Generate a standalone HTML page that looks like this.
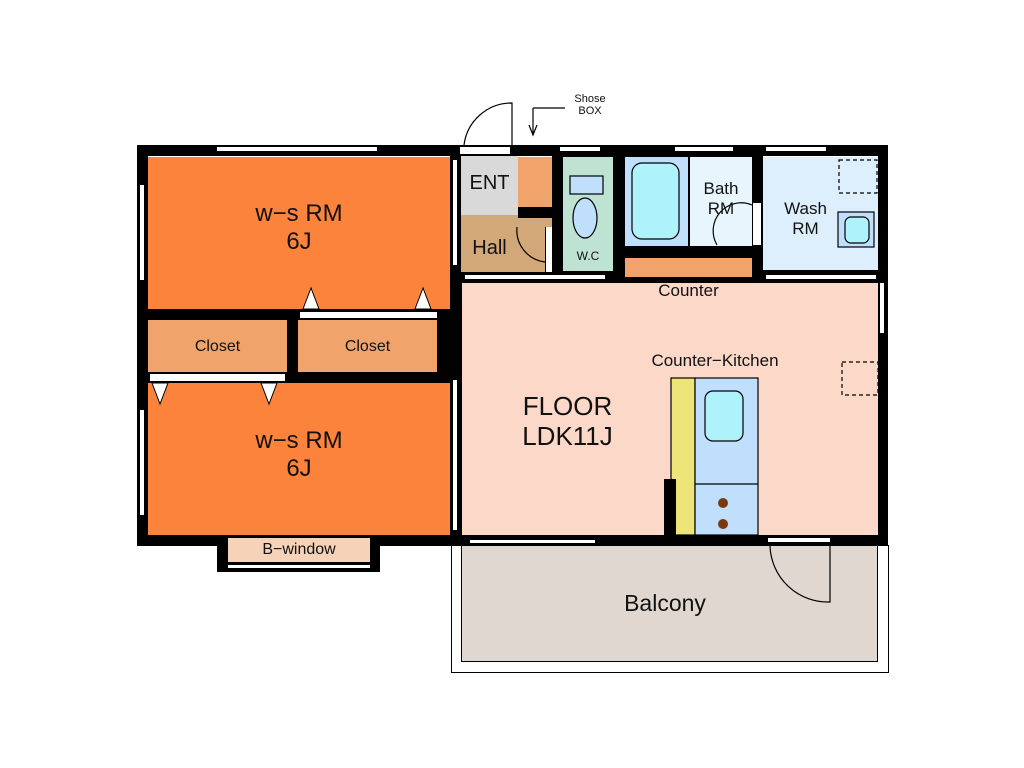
<!DOCTYPE html>
<html><head><meta charset="utf-8"><style>
body{margin:0;background:#fff;width:1024px;height:768px;position:relative;overflow:hidden;font-family:"Liberation Sans",sans-serif}
div{position:absolute;box-sizing:border-box}
.b{background:#000}
.t{color:#111;text-align:center;line-height:1.15}
.w{background:#fff;border-top:1px solid #000;border-bottom:1px solid #000}
.v{background:#fff;border-left:1px solid #000;border-right:1px solid #000}
</style></head><body>
<!-- walls base -->
<div class="b" style="left:137px;top:145px;width:751px;height:11px"></div>
<div class="b" style="left:137px;top:145px;width:11px;height:401px"></div>
<div class="b" style="left:137px;top:535px;width:326px;height:11px"></div>
<div class="b" style="left:450px;top:145px;width:12px;height:401px"></div>
<div class="b" style="left:878px;top:145px;width:10px;height:401px"></div>
<div class="b" style="left:450px;top:535px;width:438px;height:11px"></div>
<div class="b" style="left:148px;top:309px;width:302px;height:74px"></div>
<div class="b" style="left:455px;top:270px;width:433px;height:13px"></div>
<div class="b" style="left:552px;top:145px;width:211px;height:140px"></div>
<div class="b" style="left:518px;top:207px;width:40px;height:11px"></div>
<!-- rooms -->
<div style="left:148px;top:157px;width:302px;height:152px;background:#fb833b"></div>
<div style="left:148px;top:383px;width:302px;height:152px;background:#fb833b"></div>
<div style="left:148px;top:320px;width:139px;height:52px;background:#f0a46c"></div>
<div style="left:298px;top:320px;width:139px;height:52px;background:#f0a46c"></div>
<div style="left:461px;top:156px;width:57px;height:59px;background:#d9d9d9"></div>
<div style="left:461px;top:215px;width:57px;height:57px;background:#d2a878"></div>
<div style="left:518px;top:218px;width:34px;height:54px;background:#d2a878"></div>
<div style="left:518px;top:157px;width:34px;height:50px;background:#f0a46c"></div>
<div style="left:563px;top:157px;width:50px;height:114px;background:#bfe3d3"></div>
<div style="left:625px;top:157px;width:63px;height:89px;background:#bfdffc"></div>
<div style="left:690px;top:157px;width:62px;height:89px;background:#e6f6fc"></div>
<div style="left:763px;top:157px;width:115px;height:113px;background:#ddeefc"></div>
<div style="left:625px;top:258px;width:127px;height:19px;background:#f0a46c"></div>
<div style="left:462px;top:283px;width:416px;height:252px;background:#fbd8c8"></div>
<!-- balcony -->
<div style="left:451px;top:545px;width:438px;height:128px;border:1px solid #000;background:#fff"></div>
<div style="left:461px;top:546px;width:417px;height:116px;background:#e0d8d0;border:1px solid #000;border-top:none"></div>
<!-- B-window -->
<div class="b" style="left:217px;top:537px;width:163px;height:35px"></div>
<div style="left:228px;top:538px;width:142px;height:24px;background:#f5d2b8"></div>
<div class="w" style="left:228px;top:564px;width:142px;height:5px"></div>
<!-- windows -->
<div class="w" style="left:217px;top:146px;width:160px;height:6px"></div>
<div class="w" style="left:560px;top:146px;width:40px;height:6px"></div>
<div class="w" style="left:675px;top:146px;width:58px;height:6px"></div>
<div class="w" style="left:766px;top:146px;width:60px;height:6px"></div>
<div class="v" style="left:139px;top:185px;width:6px;height:95px"></div>
<div class="v" style="left:139px;top:410px;width:6px;height:105px"></div>
<div class="v" style="left:452px;top:160px;width:6px;height:105px"></div>
<div class="v" style="left:452px;top:380px;width:6px;height:150px"></div>
<div class="v" style="left:879px;top:283px;width:6px;height:50px"></div>
<div class="w" style="left:465px;top:274px;width:140px;height:6px"></div>
<div class="w" style="left:766px;top:274px;width:110px;height:6px"></div>
<div class="w" style="left:470px;top:539px;width:125px;height:5px"></div>
<div class="w" style="left:768px;top:537px;width:62px;height:6px"></div>
<div class="w" style="left:460px;top:146px;width:50px;height:9px"></div>
<!-- closet doors -->
<div class="w" style="left:300px;top:311px;width:137px;height:8px"></div>
<div class="w" style="left:150px;top:373px;width:135px;height:9px"></div>
<div class="v" style="left:545px;top:227px;width:8px;height:45px"></div>
<div class="v" style="left:752px;top:203px;width:10px;height:42px"></div>
<svg width="1024" height="768" style="position:absolute;left:0;top:0">
<g fill="#fff" stroke="#000" stroke-width="1">
<polygon points="303,309 311,288 319,309"/><polygon points="415,309 423,288 431,309"/>
<polygon points="152,383 160,404 168,383"/><polygon points="261,383 269,404 277,383"/>
</g>
<g fill="none" stroke="#000" stroke-width="1.2">
<path d="M464,145 A48,48 0 0 1 512,103 L512,145"/>
<path d="M517,227 A32,32 0 0 0 545,262"/>
<path d="M752,205 A28,28 0 0 0 717,245"/>
<path d="M770,546 A58,58 0 0 0 830,602 L830,546"/>
<path d="M533,108 L565,108 M533,108 L533,135 M529,125 L533,135 L537,125"/>
<rect x="570" y="176" width="33" height="18" fill="#bfdffc"/>
<ellipse cx="585" cy="218" rx="12" ry="20" fill="#bfdffc"/>
<rect x="632" y="163" width="47" height="76" rx="10" fill="#aef2fc"/>
<rect x="838" y="212" width="36" height="35" fill="#bfdffc"/>
<rect x="845" y="217" width="24" height="26" rx="6" fill="#aef2fc"/>
<rect x="671" y="378" width="24" height="157" fill="#ede57a"/>
<rect x="695" y="378" width="63" height="157" fill="#bfdffc"/>
<line x1="695" y1="484" x2="758" y2="484"/>
<rect x="705" y="391" width="38" height="50" rx="8" fill="#aef2fc"/>
<rect x="839" y="160" width="38" height="33" stroke-dasharray="4,3"/>
<rect x="842" y="362" width="36" height="33" stroke-dasharray="4,3"/>
</g>
<rect x="664" y="479" width="12" height="57" fill="#000"/>
<circle cx="723" cy="503" r="5" fill="#7a3a10"/><circle cx="723" cy="524" r="5" fill="#7a3a10"/>
</svg>
<!-- labels -->
<div class="t" style="left:148px;top:200px;width:302px;font-size:24px">w−s RM<br>6J</div>
<div class="t" style="left:148px;top:427px;width:302px;font-size:24px">w−s RM<br>6J</div>
<div class="t" style="left:148px;top:338px;width:139px;font-size:16px">Closet</div>
<div class="t" style="left:298px;top:338px;width:139px;font-size:16px">Closet</div>
<div class="t" style="left:228px;top:541px;width:142px;font-size:16px">B−window</div>
<div class="t" style="left:461px;top:172px;width:57px;font-size:20px">ENT</div>
<div class="t" style="left:461px;top:237px;width:57px;font-size:20px">Hall</div>
<div class="t" style="left:563px;top:250px;width:50px;font-size:12px">W.C</div>
<div class="t" style="left:690px;top:179px;width:62px;font-size:17px">Bath<br>RM</div>
<div class="t" style="left:768px;top:199px;width:75px;font-size:17px">Wash<br>RM</div>
<div class="t" style="left:625px;top:281px;width:127px;font-size:17px">Counter</div>
<div class="t" style="left:620px;top:351px;width:190px;font-size:17px">Counter−Kitchen</div>
<div class="t" style="left:480px;top:392px;width:175px;font-size:26px">FLOOR<br>LDK11J</div>
<div class="t" style="left:560px;top:590px;width:210px;font-size:23px">Balcony</div>
<div class="t" style="left:555px;top:93px;width:70px;font-size:11px;line-height:1.1">Shose<br>BOX</div>
</body></html>
